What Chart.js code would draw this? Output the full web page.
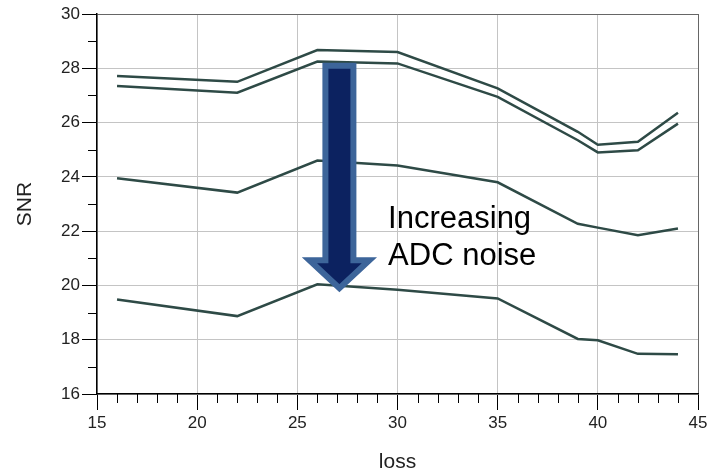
<!DOCTYPE html>
<html>
<head>
<meta charset="utf-8">
<script src="https://cdn.jsdelivr.net/npm/chart.js@4"></script>
<style>
  html, body { margin: 0; padding: 0; background: #fff; }
  #wrap { width: 719px; height: 473px; }
</style>
</head>
<body>
<div id="wrap"><canvas id="chart"></canvas></div>
<script>
const lossValues = [16, 22, 26, 30, 35, 39, 40, 42, 44];
const snrA = [27.72, 27.5, 28.67, 28.6, 27.26, 25.66, 25.18, 25.29, 26.36];
const snrB = [27.35, 27.1, 28.25, 28.18, 26.95, 25.35, 24.9, 24.98, 25.96];
const snrC = [23.95, 23.42, 24.6, 24.42, 23.8, 22.27, 22.13, 21.85, 22.1];
const snrD = [19.48, 18.87, 20.04, 19.84, 19.52, 18.03, 17.98, 17.48, 17.46];
const noteLines = ["Increasing", "ADC noise"];

const FONT = "'Liberation Sans', Arial, sans-serif";
const LINE_COLOR = "#2e4a46";

function toPoints(ys) {
    return lossValues.map((x, i) => ({ x: x, y: ys[i] }));
}

function makeSet(ys) {
    return {
        data: toPoints(ys),
        borderColor: LINE_COLOR,
        borderWidth: 2.5,
        pointRadius: 0,
        tension: 0,
        fill: false,
    };
}

// minor ticks, top/right frame, arrow and note
const extras = {
    id: "extras",
    beforeDatasetsDraw(chart) {
        const { ctx, chartArea: a, scales: { x, y } } = chart;
        ctx.save();
        ctx.strokeStyle = "#000";
        ctx.lineWidth = 1;
        ctx.beginPath();
        for (let v = 16; v < 45; v++) {
            if (v % 5 === 0) continue;
            const px = Math.round(x.getPixelForValue(v)) + 0.5;
            ctx.moveTo(px, a.bottom);
            ctx.lineTo(px, a.bottom + 9);
        }
        for (let v = 17; v < 30; v += 2) {
            const py = Math.round(y.getPixelForValue(v)) + 0.5;
            ctx.moveTo(a.left - 9, py);
            ctx.lineTo(a.left, py);
        }
        ctx.stroke();
        ctx.restore();
    },
    afterDatasetsDraw(chart) {
        const { ctx, scales: { x, y } } = chart;
        ctx.save();

        // arrow
        const cx = x.getPixelForValue(27.1);
        const top = y.getPixelForValue(28.2) + 3;
        const headBase = y.getPixelForValue(21.0) + 2;
        const tip = y.getPixelForValue(19.75) - 4;
        const shaftHalf = 14;
        const headHalf = 30;
        ctx.beginPath();
        ctx.moveTo(cx - shaftHalf, top);
        ctx.lineTo(cx + shaftHalf, top);
        ctx.lineTo(cx + shaftHalf, headBase);
        ctx.lineTo(cx + headHalf, headBase);
        ctx.lineTo(cx, tip);
        ctx.lineTo(cx - headHalf, headBase);
        ctx.lineTo(cx - shaftHalf, headBase);
        ctx.closePath();
        ctx.fillStyle = "#0c2260";
        ctx.fill();
        ctx.lineWidth = 6;
        ctx.lineJoin = "miter";
        ctx.strokeStyle = "#3d659a";
        ctx.stroke();

        // note
        ctx.fillStyle = "#000";
        ctx.font = `31px ${FONT}`;
        ctx.textAlign = "left";
        ctx.textBaseline = "alphabetic";
        const tx = x.getPixelForValue(29.53);
        const ty = y.getPixelForValue(22.1);
        noteLines.forEach((t, i) => ctx.fillText(t, tx, ty + i * 37));

        ctx.restore();
    },
};

new Chart(document.getElementById("chart"), {
    type: "line",
    data: {
        datasets: [makeSet(snrA), makeSet(snrB), makeSet(snrC), makeSet(snrD)],
    },
    options: {
        responsive: true,
        maintainAspectRatio: false,
        animation: false,
        layout: { padding: { top: 14, right: 21, left: 0, bottom: 0 } },
        plugins: {
            legend: { display: false },
            tooltip: { enabled: false },
        },
        scales: {
            x: {
                type: "linear",
                min: 15,
                max: 45,
                afterFit(scale) { scale.height = 79; },
                ticks: {
                    stepSize: 5,
                    padding: 3,
                    color: "#222",
                    font: { family: FONT, size: 17 },
                    maxRotation: 0,
                },
                grid: {
                    color: (c) => (c.tick && c.tick.value === 45 ? "#666" : "#c4c4c4"),
                    tickColor: "#000",
                    tickLength: 16,
                    lineWidth: 1,
                },
                border: { color: "#000", width: 1.5 },
                title: {
                    display: true,
                    text: "loss",
                    color: "#222",
                    font: { family: FONT, size: 21, lineHeight: 1 },
                    padding: { top: 0, bottom: 0 },
                },
            },
            y: {
                min: 16,
                max: 30,
                afterFit(scale) { scale.width = 97; },
                ticks: {
                    stepSize: 2,
                    padding: 2,
                    color: "#222",
                    font: { family: FONT, size: 17 },
                },
                grid: {
                    color: (c) => (c.tick && c.tick.value === 30 ? "#666" : "#c4c4c4"),
                    tickColor: "#000",
                    tickLength: 15,
                    lineWidth: 1,
                },
                border: { color: "#000", width: 1.5 },
                title: {
                    display: true,
                    text: "SNR",
                    color: "#222",
                    font: { family: FONT, size: 21, lineHeight: 1 },
                    padding: { top: 15, bottom: 0 },
                },
            },
        },
    },
    plugins: [extras],
});
</script>
</body>
</html>
